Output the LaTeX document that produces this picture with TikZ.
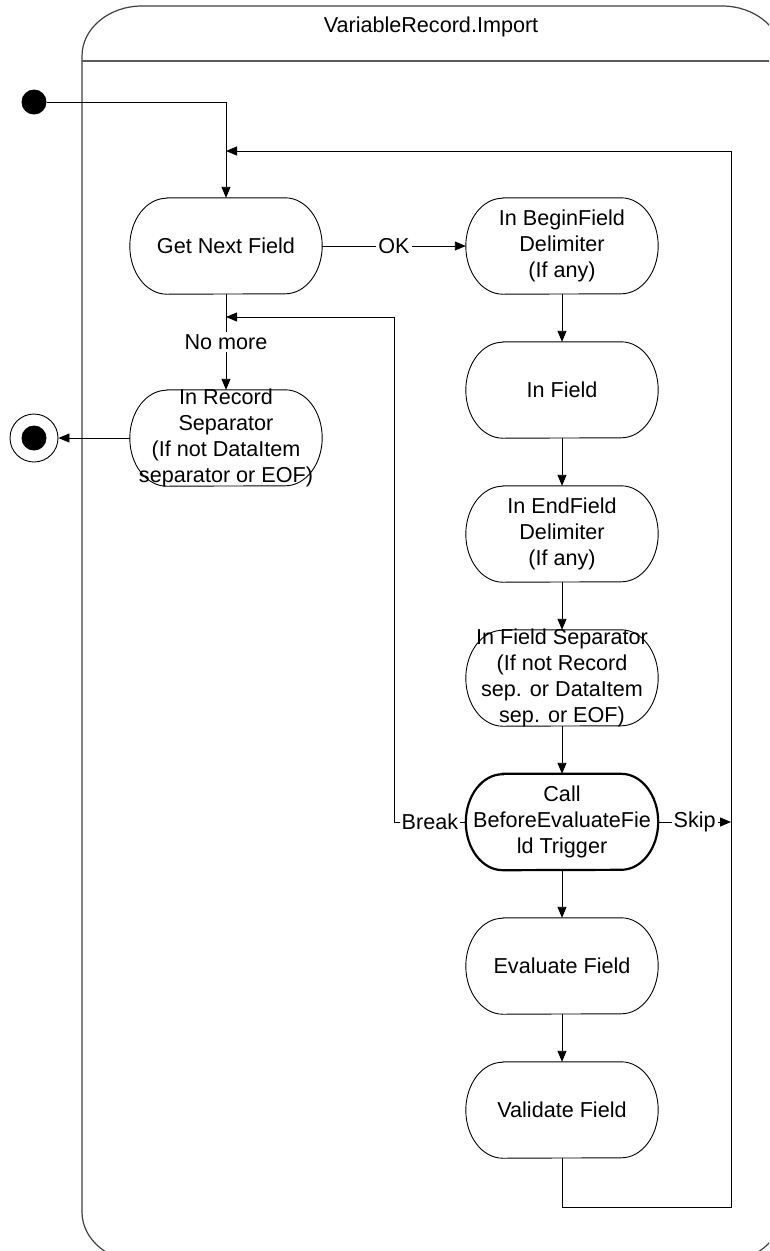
\documentclass[tikz,border=0pt]{standalone}
\usepackage{fontspec}
\setmainfont{Liberation Sans}
\usetikzlibrary{arrows.meta}

% text size used for every label in the chart
\newcommand\diagfont{\fontsize{21.6pt}{26pt}\selectfont}
% state text: a fixed 192x96 box, so long texts may run over the outline
\newcommand\stext[1]{\parbox[c][96pt][c]{192pt}{\centering #1}}

\begin{document}
\begin{tikzpicture}[x=1pt,y=1pt,
  flow/.style={draw, line width=0.9pt, -{Triangle[length=11pt,width=9pt]}},
  lbl/.style={fill=white, inner sep=2pt, font=\diagfont},
  frame/.style={draw=black!75, line width=1.2pt},
  divider/.style={draw=black!65, line width=1.8pt},
  % stadium-shaped activity state with elliptic ends
  state/.style={inner sep=0pt, minimum width=192pt, minimum height=96pt, font=\diagfont,
    append after command={\pgfextra{\draw[line width=#1]
      ([xshift=37pt]\tikzlastnode.north west) -- ([xshift=-37pt]\tikzlastnode.north east)
      arc[start angle=90,end angle=-90,x radius=37pt,y radius=48pt]
      -- ([xshift=37pt]\tikzlastnode.south west)
      arc[start angle=270,end angle=90,x radius=37pt,y radius=48pt] -- cycle;}}},
  state/.default=0.9pt,
  startdot/.style={circle, fill=black, inner sep=0pt, minimum size=25pt},
  endring/.style={circle, draw=black, line width=0.9pt, inner sep=0pt, minimum size=48pt}
]
\useasboundingbox (0,0) rectangle (769,-1251);
\clip (0,0) rectangle (769,-1251);

% composite state frame with its name compartment
\draw[frame] (82,-56) arc[start angle=180,end angle=90,x radius=60,y radius=50]
  -- (722,-6) arc[start angle=90,end angle=0,x radius=60,y radius=50]
  -- (782,-1212) arc[start angle=0,end angle=-90,x radius=60,y radius=50]
  -- (142,-1262) arc[start angle=270,end angle=180,x radius=60,y radius=50] -- cycle;
\draw[divider] (82,-61) -- (782,-61);
\node[font=\diagfont] (title) at (431,-27) {VariableRecord.Import};

% pseudo states
\node[startdot] (init) at (34,-102) {};
\node[endring] (final) at (34,-438) {};
\node[startdot] (finaldot) at (final) {};

% states
\node[state] (gnf)    at (226,-246)  {\stext{Get Next Field}};
\node[state] (rsep)   at (226,-438)  {\stext{In Record\\Separator\\(If not DataItem\\separator or EOF)}};
\node[state] (bfd)    at (562,-246)  {\stext{In BeginField\\Delimiter\\(If any)}};
\node[state] (infld)  at (562,-390)  {\stext{In Field}};
\node[state] (efd)    at (562,-534)  {\stext{In EndField\\Delimiter\\(If any)}};
\node[state] (fsep)   at (562,-678)  {\stext{In Field Separator\\(If not Record\\sep. or DataItem\\sep. or EOF)}};
\node[state=2.2pt] (call) at (562,-822) {\stext{Call\\BeforeEvaluateFie\\ld Trigger}};
\node[state] (evalf)  at (562,-966)  {\stext{Evaluate Field}};
\node[state] (valf)   at (562,-1110) {\stext{Validate Field}};

% junction points on the connectors
\coordinate (joinloop)  at (226,-151);
\coordinate (joinbreak) at (226,-317);
\coordinate (brkcorner) at (394,-822);
\coordinate (skipend)   at (731,-822);
\coordinate (loopcorner) at (731,-1207);

% transitions
\draw[flow] (init) -| (gnf.north);
\draw[flow] (gnf.east) -- node[lbl] {OK} (bfd.west);
\draw[flow] (gnf.south) -- node[lbl] {No more} (rsep.north);
\draw[flow] (rsep.west) -- (final);
\draw[flow] (bfd.south) -- (infld.north);
\draw[flow] (infld.south) -- (efd.north);
\draw[flow] (efd.south) -- (fsep.north);
\draw[flow] (fsep.south) -- (call.north);
\draw[flow] (call.south) -- (evalf.north);
\draw[flow] (evalf.south) -- (valf.north);
\draw[flow] (call.west) -- node[lbl] {Break} (brkcorner) |- (joinbreak);
\draw[flow] (call.east) -- node[lbl] {Skip} (skipend);
\draw[flow] (valf.south) |- (loopcorner) |- (joinloop);
\end{tikzpicture}
\end{document}
